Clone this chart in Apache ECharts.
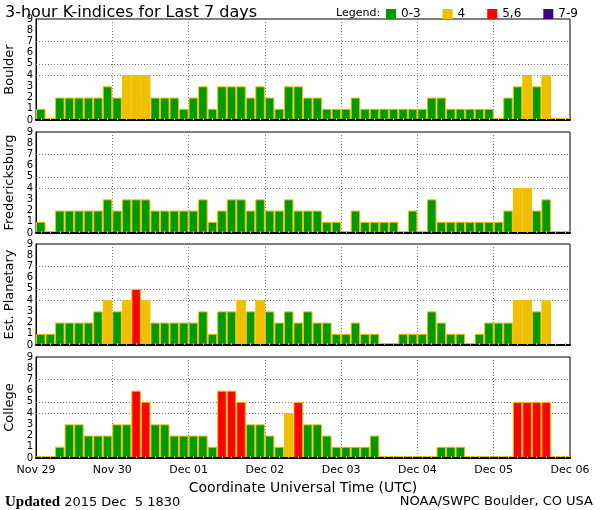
<!DOCTYPE html>
<html>
<head>
<meta charset="utf-8">
<script src="https://cdn.jsdelivr.net/npm/echarts@6/dist/echarts.min.js"></script>
<style>
html, body { margin: 0; padding: 0; background: #fff; }
#kindex { width: 600px; height: 510px; }
</style>
</head>
<body>
<div id="kindex"></div>
<script>
// tick labels / categories
const dayLabels = ['Nov 29', 'Nov 30', 'Dec 01', 'Dec 02', 'Dec 03', 'Dec 04', 'Dec 05', 'Dec 06'];
const hours = ['00', '03', '06', '09', '12', '15', '18', '21'];
const periods = dayLabels.slice(0, 7).flatMap(d => hours.map(h => d + ' ' + h));
const kTicks = [0, 1, 2, 3, 4, 5, 6, 7, 8, 9];
const gridLevels = [4, 5, 7];

const stations = ['Boulder', 'Fredericksburg', 'Est. Planetary', 'College'];

// 3-hour K values, 8 per day
const boulder = [1, 0, 2, 2, 2, 2, 2, 3, 2, 4, 4, 4, 2, 2, 2, 1, 2, 3, 1, 3, 3, 3, 2, 3, 2, 1, 3, 3, 2, 2, 1, 1,
  1, 2, 1, 1, 1, 1, 1, 1, 1, 2, 2, 1, 1, 1, 1, 1, 0, 2, 3, 4, 3, 4, 0, 0];
const fredericksburg = [1, 0, 2, 2, 2, 2, 2, 3, 2, 3, 3, 3, 2, 2, 2, 2, 2, 3, 1, 2, 3, 3, 2, 3, 2, 2, 3, 2, 2, 2, 1, 1,
  0, 2, 1, 1, 1, 1, 0, 2, 0, 3, 1, 1, 1, 1, 1, 1, 1, 2, 4, 4, 2, 3, 0, 0];
const planetary = [1, 1, 2, 2, 2, 2, 3, 4, 3, 4, 5, 4, 2, 2, 2, 2, 2, 3, 1, 3, 3, 4, 3, 4, 3, 2, 3, 2, 3, 2, 2, 1,
  1, 2, 1, 1, 0, 0, 1, 1, 1, 3, 2, 1, 1, 0, 1, 2, 2, 2, 4, 4, 3, 4, null, null];
const college = [0, 0, 1, 3, 3, 2, 2, 2, 3, 3, 6, 5, 3, 3, 2, 2, 2, 2, 1, 6, 6, 5, 3, 3, 2, 1, 4, 5, 3, 3, 2, 1,
  1, 1, 1, 2, 0, 0, 0, 0, 0, 0, 1, 1, 1, 0, 0, 0, 0, 0, 5, 5, 5, 5, 0, 0];
const panels = [boulder, fredericksburg, planetary, college];

const legendNames = ['0-3', '4', '5,6', '7-9'];
const legendColors = ['#009900', '#f0c000', '#ff0000', '#400080'];

function kColor(v) {
  if (v >= 7) return legendColors[3];
  if (v >= 5) return legendColors[2];
  if (v >= 4) return legendColors[1];
  return legendColors[0];
}

const font = 'DejaVu Sans';
const tops = [19, 132, 244, 357];
const grids = [], xAxes = [], yAxes = [], series = [];

tops.forEach((top, i) => {
  const last = i === tops.length - 1;
  grids.push({
    left: 36, right: 30, top: top, height: 101, outerBoundsMode: 'none', containLabel: false,
    show: true, borderColor: '#000', borderWidth: 1
  });
  // bars
  xAxes.push({
    type: 'category', gridIndex: i, data: periods, boundaryGap: true, z: 10,
    axisLine: { lineStyle: { color: '#000', width: 2 } },
    axisTick: { show: true, inside: true, alignWithLabel: true, interval: 0, length: 2,
      lineStyle: { color: '#f0c000', width: 1 } },
    axisLabel: { show: false },
    splitLine: { show: false }
  });
  // day lines + labels
  xAxes.push({
    type: 'value', gridIndex: i, min: 0, max: 7, interval: 1, position: 'bottom',
    axisLine: { show: false }, axisTick: { show: false },
    axisLabel: { show: last, formatter: v => dayLabels[v], color: '#000',
      fontFamily: font, fontSize: 11, margin: 7 },
    splitLine: { show: true, showMinLine: false, showMaxLine: false,
      lineStyle: { color: '#808080', type: [1, 2], width: 1 } },
    name: last ? 'Coordinate Universal Time (UTC)' : '',
    nameLocation: 'middle', nameGap: 23,
    nameTextStyle: { color: '#000', fontFamily: font, fontSize: 14 }
  });
  yAxes.push({
    type: 'value', gridIndex: i, min: kTicks[0], max: kTicks[kTicks.length - 1], interval: 1,
    axisLine: { show: true, lineStyle: { color: '#000', width: 1 } },
    axisTick: { show: false },
    axisLabel: { color: '#000', fontFamily: font, fontSize: 10, margin: 3 },
    splitLine: { show: false },
    name: stations[i], nameLocation: 'middle', nameGap: 20, nameMoveOverlap: false,
    nameTextStyle: { color: '#000', fontFamily: font, fontSize: 13 }
  });
  series.push({
    name: stations[i], type: 'bar', xAxisIndex: i * 2, yAxisIndex: i,
    data: panels[i], barCategoryGap: '0%', barMinHeight: 2,
    itemStyle: { color: p => kColor(p.value), borderColor: '#f0c000', borderWidth: 1 },
    markLine: {
      z: 1, silent: true, symbol: 'none', label: { show: false }, animation: false,
      lineStyle: { color: '#808080', type: [1, 2], width: 1 },
      data: gridLevels.map(v => ({ yAxis: v }))
    }
  });
});

// legend-only series
legendNames.forEach((n, j) => {
  series.push({ name: n, type: 'line', xAxisIndex: 0, yAxisIndex: 0, data: [], color: legendColors[j] });
});

const chart = echarts.init(document.getElementById('kindex'));
chart.setOption({
  animation: false,
  title: [
    { text: '3-hour K-indices for Last 7 days', left: 0, top: 0,
      textStyle: { fontFamily: font, fontSize: 16, fontWeight: 'normal', color: '#000' } },
    { text: 'Legend:', left: 331, top: 3,
      textStyle: { fontFamily: font, fontSize: 11, fontWeight: 'normal', color: '#000' } },
    { text: '{b|Updated} 2015 Dec  5 1830', left: 0, top: 490,
      textStyle: { fontFamily: font, fontSize: 13, fontWeight: 'normal', color: '#000',
        rich: { b: { fontFamily: 'Liberation Serif', fontWeight: 'bold', fontSize: 15, color: '#000' } } } },
    { text: 'NOAA/SWPC Boulder, CO USA', right: 2, top: 490,
      textStyle: { fontFamily: font, fontSize: 13, fontWeight: 'normal', color: '#000' } }
  ],
  legend: {
    data: legendNames, left: 381, top: 3, icon: 'rect', itemWidth: 10, itemHeight: 10,
    itemGap: 22, selectedMode: false,
    textStyle: { fontFamily: font, fontSize: 12, color: '#000' }
  },
  grid: grids,
  xAxis: xAxes,
  yAxis: yAxes,
  series: series
});
</script>
</body>
</html>
